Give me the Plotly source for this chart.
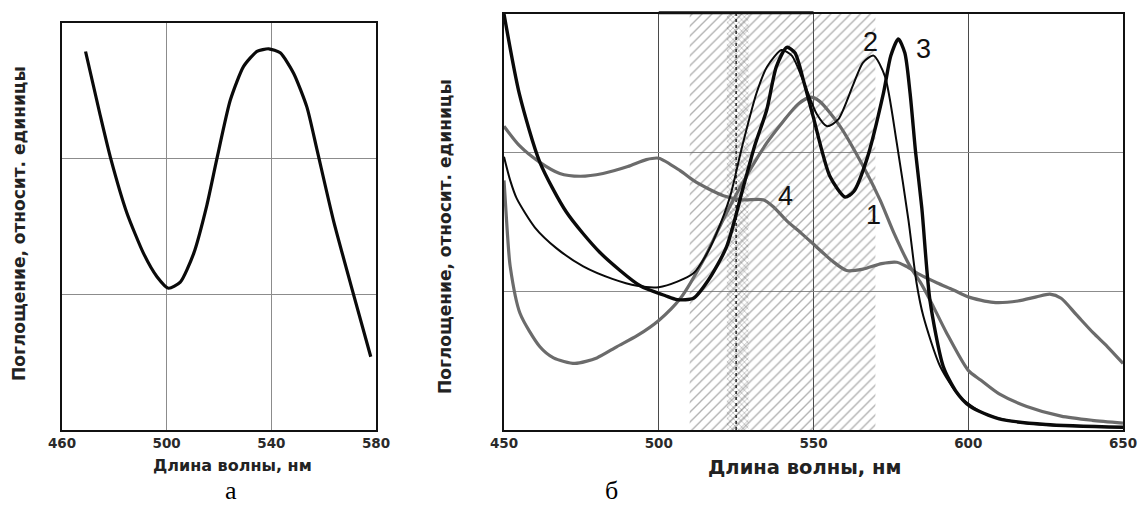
import plotly.graph_objects as go

# ---------------- Panel a ----------------
a_wl = [469, 474.6, 478.5, 484.8, 491.2, 496.3, 500.7, 505.2, 510.3, 515.4, 519.2, 524.3,
        529.4, 534.5, 539, 543.4, 548.5, 553.6, 557.4, 563.8, 571.4, 578]
a_abs = [2.79, 2.32, 2.01, 1.60, 1.30, 1.13, 1.045, 1.09, 1.30, 1.66, 2.0, 2.43,
         2.68, 2.79, 2.81, 2.78, 2.63, 2.38, 2.07, 1.54, 1.0, 0.54]
a_ticks = [460, 500, 540, 580]

# ---------------- Panel б ----------------
c1_wl = [450, 451, 452, 455.2, 461.6, 466, 472.9, 480, 486.4, 493, 500, 507, 515, 520, 526.3,
         534.9, 540, 545, 549, 552, 558.6, 566.1, 571.5, 576, 581.2, 584.4, 587.6, 593, 600,
         604, 610, 618.9, 630, 640, 650]
c1_abs = [1.80, 1.45, 1.18, 0.84, 0.60, 0.52, 0.48, 0.52, 0.60, 0.68, 0.79, 0.95, 1.25, 1.48, 1.75,
          2.07, 2.22, 2.35, 2.40, 2.37, 2.19, 1.90, 1.66, 1.42, 1.18, 1.07, 0.94, 0.70, 0.43,
          0.36, 0.26, 0.17, 0.10, 0.07, 0.05]

c2_wl = [450, 452, 454.1, 460, 467, 475.6, 485, 493, 500, 506, 511.2, 515, 518.7, 523, 527, 531.6,
         535, 539.7, 543, 547, 551, 554.4, 558, 563, 566, 569.4, 573.1, 576.9, 580.7, 583.3,
         585.5, 590.9, 597.3, 605, 615, 630, 650]
c2_abs = [1.97, 1.80, 1.67, 1.46, 1.31, 1.18, 1.09, 1.04, 1.03, 1.07, 1.13, 1.25, 1.42, 1.68, 2.05, 2.43,
          2.62, 2.74, 2.70, 2.50, 2.28, 2.19, 2.24, 2.50, 2.65, 2.70, 2.55, 2.07, 1.51, 1.06,
          0.82, 0.46, 0.24, 0.12, 0.06, 0.03, 0.02]

c3_wl = [450, 455, 461.6, 470.2, 481, 494, 502, 506, 511.2, 516, 521.9, 527.3, 531, 534.9, 538,
         541.4, 544, 547, 549.9, 555.3, 560.2, 563, 567.2, 572.6, 575, 577.4, 579.5, 581.2, 583,
         585, 587.6, 591.9, 596, 600.6, 610, 625, 650]
c3_abs = [3.0, 2.42, 1.93, 1.57, 1.28, 1.04, 0.97, 0.94, 0.95, 1.08, 1.32, 1.75, 2.05, 2.31, 2.62,
          2.76, 2.72, 2.50, 2.26, 1.83, 1.68, 1.72, 1.95, 2.43, 2.70, 2.82, 2.72, 2.43, 2.0,
          1.60, 0.94, 0.46, 0.28, 0.17, 0.08, 0.04, 0.02]

c4_wl = [450, 455, 461.6, 468, 474.6, 482, 490, 496, 500, 506.9, 511.2, 516, 520.9, 527, 533.7,
         537, 541.3, 546, 551, 556, 560.7, 566, 572, 576.9, 580, 584.4, 590, 595.2, 600, 608.1,
         616, 622, 626.4, 630, 635, 640.4, 645, 650]
c4_abs = [2.19, 2.05, 1.93, 1.85, 1.83, 1.85, 1.90, 1.95, 1.96, 1.87, 1.80, 1.74, 1.69, 1.66, 1.66,
          1.61, 1.51, 1.42, 1.32, 1.22, 1.15, 1.16, 1.20, 1.21, 1.18, 1.12, 1.06, 1.01, 0.96, 0.92,
          0.93, 0.96, 0.98, 0.95, 0.83, 0.70, 0.60, 0.48]

b_ticks = [450, 500, 550, 600, 650]
hatch_band = [510, 570]
dense_band = [522, 529]
line_525 = 525
curve_labels = ["1", "2", "3", "4"]
label_wl = [569.3, 568.3, 585.5, 540.8]
label_abs = [1.55, 2.80, 2.75, 1.69]

W, H = 1141, 511
def px(xp): return xp / W
def py(yp): return 1 - yp / H

fig = go.Figure()

# panel a curve
fig.add_trace(go.Scatter(x=a_wl, y=a_abs, mode="lines",
                         line=dict(color="#0a0a0a", width=3.2, shape="spline", smoothing=0.6),
                         xaxis="x", yaxis="y", showlegend=False, hoverinfo="skip"))

# hatched band
fig.add_trace(go.Scatter(x=[hatch_band[0], hatch_band[1], hatch_band[1], hatch_band[0], hatch_band[0]],
                         y=[0, 0, 3, 3, 0], mode="lines", fill="toself", fillcolor="rgba(0,0,0,0)",
                         fillpattern=dict(shape="/", size=7, solidity=0.2, fgcolor="#666", bgcolor="rgba(0,0,0,0)"),
                         line=dict(width=0), xaxis="x2", yaxis="y2", showlegend=False, hoverinfo="skip"))
fig.add_trace(go.Scatter(x=[dense_band[0], dense_band[1], dense_band[1], dense_band[0], dense_band[0]],
                         y=[0, 0, 3, 3, 0], mode="lines", fill="toself", fillcolor="rgba(255,255,255,0)",
                         fillpattern=dict(shape="x", size=4, solidity=0.3, fgcolor="#5a5a5a", bgcolor="rgba(0,0,0,0)"),
                         line=dict(width=0), xaxis="x2", yaxis="y2", showlegend=False, hoverinfo="skip"))
fig.add_trace(go.Scatter(x=[line_525, line_525], y=[0, 3], mode="lines", line=dict(color="#222", width=1.5, dash="dot"),
                         xaxis="x2", yaxis="y2", showlegend=False, hoverinfo="skip"))

gray = "#6b6b6b"
for wl, ab, col, w in [(c4_wl, c4_abs, gray, 3.2), (c1_wl, c1_abs, gray, 3.2),
                       (c2_wl, c2_abs, "#0a0a0a", 2.0), (c3_wl, c3_abs, "#0a0a0a", 3.4)]:
    fig.add_trace(go.Scatter(x=wl, y=ab, mode="lines", line=dict(color=col, width=w, shape="spline", smoothing=0.7),
                             xaxis="x2", yaxis="y2", showlegend=False, hoverinfo="skip"))

tickfont = dict(family="DejaVu Sans", size=13.5, color="#2a2a2a", weight="bold")
common_x = dict(showline=True, mirror=True, linecolor="#111", linewidth=2, ticks="", showgrid=True,
                tickfont=tickfont, zeroline=False, fixedrange=True)
common_y = dict(showline=True, mirror=True, linecolor="#111", linewidth=2, ticks="", showgrid=True,
                range=[0, 3], tickvals=[1, 2], showticklabels=False, zeroline=False,
                gridcolor="#8c8c8c", gridwidth=1.3, fixedrange=True)

fig.update_layout(
    width=W, height=H, margin=dict(l=0, r=0, t=0, b=0, autoexpand=False),
    paper_bgcolor="white", plot_bgcolor="white",
    xaxis=dict(common_x, domain=[px(62), px(376)], range=[460, 580], tickvals=a_ticks,
               gridcolor="#8c8c8c", gridwidth=1.2, anchor="y"),
    yaxis=dict(common_y, domain=[py(430), py(23)], anchor="x"),
    xaxis2=dict(common_x, domain=[px(504), px(1123)], range=[450, 650], tickvals=b_ticks,
                gridcolor="#4a4a4a", gridwidth=1.3, anchor="y2"),
    yaxis2=dict(common_y, domain=[py(430), py(14)], anchor="x2"),
)

# thicker top segment of right panel (500-550)
fig.add_shape(type="line", xref="x2", yref="y2 domain", x0=500, x1=550, y0=1.003, y1=1.003,
              line=dict(color="#111", width=3))

annotations = [
    dict(text="Поглощение, относит. единицы", x=px(19), y=py(224), textangle=-90,
         font=dict(family="DejaVu Sans", size=17, color="#222", weight="bold")),
    dict(text="Поглощение, относит. единицы", x=px(445), y=py(237), textangle=-90,
         font=dict(family="DejaVu Sans", size=17, color="#222", weight="bold")),
    dict(text="Длина волны, нм", x=px(232), y=py(465), font=dict(family="DejaVu Sans", size=16, color="#222", weight="bold")),
    dict(text="Длина волны, нм", x=px(804), y=py(467), font=dict(family="DejaVu Sans", size=19.5, color="#222", weight="bold")),
    dict(text="а", x=px(231), y=py(490), font=dict(family="Liberation Serif", size=26, color="#000")),
    dict(text="б", x=px(611), y=py(490), font=dict(family="Liberation Serif", size=26, color="#000")),
]
for a in annotations:
    a.update(xref="paper", yref="paper", showarrow=False, xanchor="center", yanchor="middle")
for t, xv, yv in zip(curve_labels, label_wl, label_abs):
    annotations.append(dict(text=t, x=xv, y=yv, xref="x2", yref="y2", showarrow=False,
                            font=dict(family="Liberation Sans", size=27, color="#111")))
fig.update_layout(annotations=annotations)

fig.write_html("out.html", config={"displayModeBar": False},
               post_script="document.body.style.margin='0';")
